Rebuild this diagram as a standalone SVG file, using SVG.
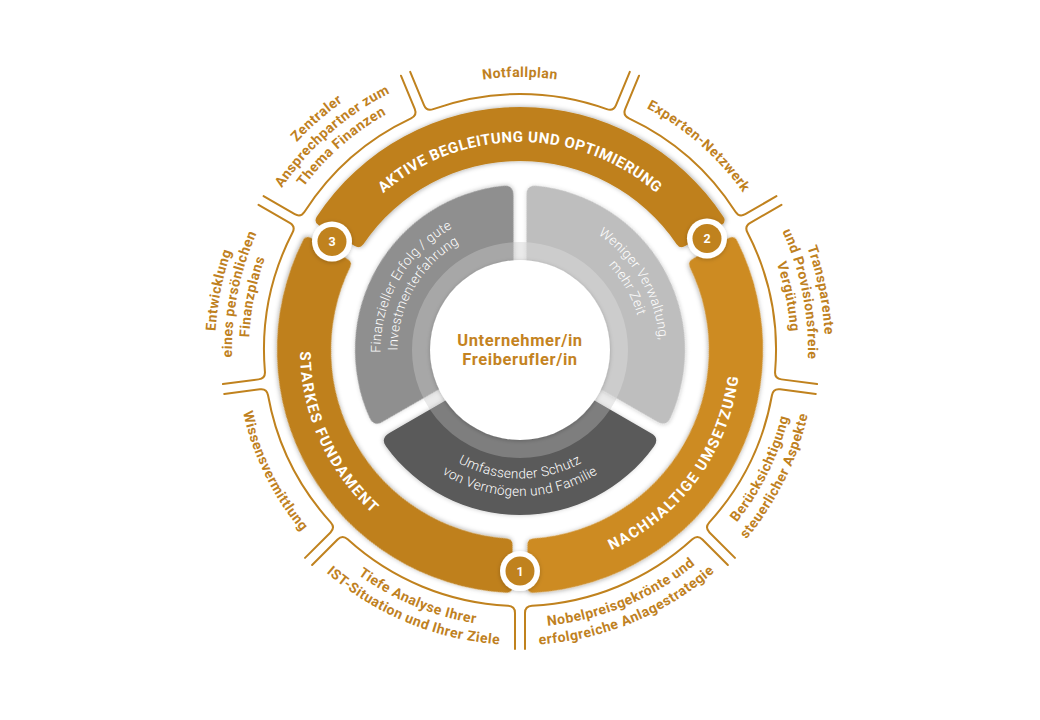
<svg xmlns="http://www.w3.org/2000/svg" width="1040" height="720" viewBox="0 0 1040 720">
<defs>
<style>
.lbl{font-family:Roboto,"Liberation Sans",sans-serif;font-weight:700;font-size:14px;fill:#BF811F;letter-spacing:0.5px;text-anchor:middle}
.band{font-family:Roboto,"Liberation Sans",sans-serif;font-weight:700;font-size:15px;fill:#FFFFFF;letter-spacing:1.5px;text-anchor:middle}
.sec{font-family:Roboto,"Liberation Sans",sans-serif;font-weight:300;font-size:13.5px;fill:#FFFFFF;letter-spacing:0.3px;text-anchor:middle}
.ctr{font-family:Roboto,"Liberation Sans",sans-serif;font-weight:700;font-size:16.5px;fill:#C4831F;letter-spacing:0.6px;text-anchor:middle}
.num{font-family:Roboto,"Liberation Sans",sans-serif;font-weight:700;font-size:12.5px;fill:#FFFFFF;text-anchor:middle}
.outline{fill:none;stroke:#C0821E;stroke-width:2;stroke-linejoin:round;stroke-linecap:round}
</style>
<filter id="sh" x="-20%" y="-20%" width="140%" height="140%">
<feDropShadow dx="0" dy="1" stdDeviation="2.5" flood-color="#000" flood-opacity="0.35"/>
</filter>
<filter id="shl" x="-20%" y="-20%" width="140%" height="140%">
<feDropShadow dx="0" dy="1" stdDeviation="2" flood-color="#000" flood-opacity="0.22"/>
</filter>
<path id="o45" d="M278.15,-109.8 L244.89,-96.02 Q238.42,-93.35 240.85,-86.76 A256,256 0 0 1 240.85,86.76 Q238.42,93.35 244.89,96.02 L278.15,109.8"/>
<path id="o37" d="M284.74,-91.38 L250.65,-79.81 Q244.02,-77.56 246.01,-70.82 A256,256 0 0 1 246.01,70.82 Q244.02,77.56 250.65,79.81 L284.74,91.38"/>
<path id="gs" d="M132.99,-203.38 A243,243 0 0 1 132.99,203.38 Q127.94,206.59 124.94,201.39 L103.93,164.99 Q100.93,159.8 105.93,156.52 A189,189 0 0 0 105.93,-156.52 Q100.93,-159.8 103.93,-164.99 L124.94,-201.39 Q127.94,-206.59 132.99,-203.38 Z"/>
<path id="gr" d="M96.36,-133.95 A165,165 0 0 1 96.36,133.95 Q88.07,139.53 83.07,130.87 L48.51,71.01 A86,86 0 0 0 48.51,-71.01 L83.07,-130.87 Q88.07,-139.53 96.36,-133.95 Z"/>
<path id="cw305" d="M-264.14,-152.5 A305,305 0 0 1 264.14,-152.5"/>
<path id="cw288" d="M-249.42,-144 A288,288 0 0 1 249.42,-144"/>
<path id="cw271" d="M-234.69,-135.5 A271,271 0 0 1 234.69,-135.5"/>
<path id="cw273" d="M-236.43,-136.5 A273,273 0 0 1 236.43,-136.5"/>
<path id="cw208" d="M-180.13,-104 A208,208 0 0 1 180.13,-104"/>
<path id="cw139" d="M-120.81,-69.75 A139.5,139.5 0 0 1 120.81,-69.75"/>
<path id="cw122" d="M-106.09,-61.25 A122.5,122.5 0 0 1 106.09,-61.25"/>
<path id="ccw277" d="M-239.89,138.5 A277,277 0 0 0 239.89,138.5"/>
<path id="ccw295" d="M-255.48,147.5 A295,295 0 0 0 255.48,147.5"/>
<path id="ccw284" d="M-245.95,142 A284,284 0 0 0 245.95,142"/>
<path id="ccw220" d="M-190.53,110 A220,220 0 0 0 190.53,110"/>
<path id="ccw128" d="M-111.29,64.25 A128.5,128.5 0 0 0 111.29,64.25"/>
<path id="ccw146" d="M-126.44,73 A146,146 0 0 0 126.44,73"/>
</defs>
<rect width="1040" height="720" fill="#FFFFFF"/>

<g id="node-notfallplan">
<use href="#o45" class="outline" transform="translate(520,350) rotate(270)"/>
<text class="lbl" transform="translate(520,350)"><textPath href="#cw273" startOffset="50%">Notfallplan</textPath></text>
</g>
<g id="node-experten">
<use href="#o37" class="outline" transform="translate(520,350) rotate(311.25)"/>
<text class="lbl" transform="translate(520,350) rotate(41.25)"><textPath href="#cw273" startOffset="50%">Experten-Netzwerk</textPath></text>
</g>
<g id="node-transparente">
<use href="#o37" class="outline" transform="translate(520,350) rotate(348.75)"/>
<text class="lbl" transform="translate(520,350) rotate(78.75)"><textPath href="#cw305" startOffset="50%">Transparente</textPath></text>
<text class="lbl" transform="translate(520,350) rotate(78.75)"><textPath href="#cw288" startOffset="50%">und Provisionsfreie</textPath></text>
<text class="lbl" transform="translate(520,350) rotate(78.75)"><textPath href="#cw271" startOffset="50%">Vergütung</textPath></text>
</g>
<g id="node-steuer">
<use href="#o37" class="outline" transform="translate(520,350) rotate(26.25)"/>
<text class="lbl" transform="translate(520,350) rotate(-63.75)"><textPath href="#ccw277" startOffset="50%">Berücksichtigung</textPath></text>
<text class="lbl" transform="translate(520,350) rotate(-63.75)"><textPath href="#ccw295" startOffset="50%">steuerlicher Aspekte</textPath></text>
</g>
<g id="node-nobelpreis">
<use href="#o45" class="outline" transform="translate(520,350) rotate(67.5)"/>
<text class="lbl" transform="translate(520,350) rotate(-22.5)"><textPath href="#ccw277" startOffset="50%">Nobelpreisgekrönte und</textPath></text>
<text class="lbl" transform="translate(520,350) rotate(-22.5)"><textPath href="#ccw295" startOffset="50%">erfolgreiche Anlagestrategie</textPath></text>
</g>
<g id="node-analyse">
<use href="#o45" class="outline" transform="translate(520,350) rotate(112.5)"/>
<text class="lbl" transform="translate(520,350) rotate(22.5)"><textPath href="#ccw277" startOffset="50%">Tiefe Analyse Ihrer</textPath></text>
<text class="lbl" transform="translate(520,350) rotate(22.5)"><textPath href="#ccw295" startOffset="50%">IST-Situation und Ihrer Ziele</textPath></text>
</g>
<g id="node-wissen">
<use href="#o37" class="outline" transform="translate(520,350) rotate(153.75)"/>
<text class="lbl" transform="translate(520,350) rotate(63.75)"><textPath href="#ccw284" startOffset="50%">Wissensvermittlung</textPath></text>
</g>
<g id="node-finanzplan">
<use href="#o37" class="outline" transform="translate(520,350) rotate(191.25)"/>
<text class="lbl" transform="translate(520,350) rotate(-78.75)"><textPath href="#cw305" startOffset="50%">Entwicklung</textPath></text>
<text class="lbl" transform="translate(520,350) rotate(-78.75)"><textPath href="#cw288" startOffset="50%">eines persönlichen</textPath></text>
<text class="lbl" transform="translate(520,350) rotate(-78.75)"><textPath href="#cw271" startOffset="50%">Finanzplans</textPath></text>
</g>
<g id="node-ansprechpartner">
<use href="#o37" class="outline" transform="translate(520,350) rotate(228.75)"/>
<text class="lbl" transform="translate(520,350) rotate(-41.25)"><textPath href="#cw305" startOffset="50%">Zentraler</textPath></text>
<text class="lbl" transform="translate(520,350) rotate(-41.25)"><textPath href="#cw288" startOffset="50%">Ansprechpartner zum</textPath></text>
<text class="lbl" transform="translate(520,350) rotate(-41.25)"><textPath href="#cw271" startOffset="50%">Thema Finanzen</textPath></text>
</g>

<g id="node-aktive">
<use href="#gs" fill="#BF801C" filter="url(#sh)" transform="translate(520,350) rotate(270)"/>
<text class="band" style="letter-spacing:0.5px" transform="translate(520,350)"><textPath href="#cw208" startOffset="50%">AKTIVE BEGLEITUNG UND OPTIMIERUNG</textPath></text>
</g>
<g id="node-nachhaltig">
<use href="#gs" fill="#CD8B24" filter="url(#sh)" transform="translate(520,350) rotate(30)"/>
<text class="band" transform="translate(520,350) rotate(-53.9)"><textPath href="#ccw220" startOffset="50%">NACHHALTIGE UMSETZUNG</textPath></text>
</g>
<g id="node-fundament">
<use href="#gs" fill="#BF801C" filter="url(#sh)" transform="translate(520,350) rotate(150)"/>
<text class="band" transform="translate(520,350) rotate(65.7)"><textPath href="#ccw220" startOffset="50%">STARKES FUNDAMENT</textPath></text>
</g>

<g id="badge-1">
<circle cx="520" cy="571" r="20" fill="#FFFFFF" filter="url(#shl)"/>
<circle cx="520" cy="571" r="14.5" fill="#C0821E"/>
<text class="num" x="520" y="575.5">1</text>
</g>
<g id="badge-2">
<circle cx="707" cy="238.5" r="20" fill="#FFFFFF" filter="url(#shl)"/>
<circle cx="707" cy="238.5" r="14.5" fill="#C0821E"/>
<text class="num" x="707" y="243">2</text>
</g>
<g id="badge-3">
<circle cx="332" cy="241.5" r="20" fill="#FFFFFF" filter="url(#shl)"/>
<circle cx="332" cy="241.5" r="14.5" fill="#C0821E"/>
<text class="num" x="332" y="246">3</text>
</g>

<circle cx="520" cy="350" r="99" fill="none" stroke="#E4E4E4" stroke-width="18"/>
<g id="node-erfolg">
<use href="#gr" fill="#8F8F8F" filter="url(#shl)" transform="translate(520,350) rotate(210)"/>
<text class="sec" transform="translate(520,350) rotate(-60)"><textPath href="#cw139" startOffset="50%">Finanzieller Erfolg / gute</textPath></text>
<text class="sec" transform="translate(520,350) rotate(-60)"><textPath href="#cw122" startOffset="50%">Investmenterfahrung</textPath></text>
</g>
<g id="node-zeit">
<use href="#gr" fill="#BEBEBE" filter="url(#shl)" transform="translate(520,350) rotate(330)"/>
<text class="sec" transform="translate(520,350) rotate(60)"><textPath href="#cw139" startOffset="50%">Weniger Verwaltung,</textPath></text>
<text class="sec" transform="translate(520,350) rotate(60)"><textPath href="#cw122" startOffset="50%">mehr Zeit</textPath></text>
</g>
<g id="node-schutz">
<use href="#gr" fill="#5A5A5A" filter="url(#shl)" transform="translate(520,350) rotate(90)"/>
<text class="sec" transform="translate(520,350)"><textPath href="#ccw128" startOffset="50%">Umfassender Schutz</textPath><textPath href="#ccw146" startOffset="50%">von Vermögen und Familie</textPath></text>
</g>
<circle cx="520" cy="350" r="99" fill="none" stroke="#FFFFFF" stroke-opacity="0.22" stroke-width="18"/>

<g id="node-center">
<circle cx="520" cy="350" r="90" fill="#FFFFFF" filter="url(#shl)"/>
<text class="ctr" x="520" y="346">Unternehmer/in</text>
<text class="ctr" x="520" y="365">Freiberufler/in</text>
</g>
</svg>
